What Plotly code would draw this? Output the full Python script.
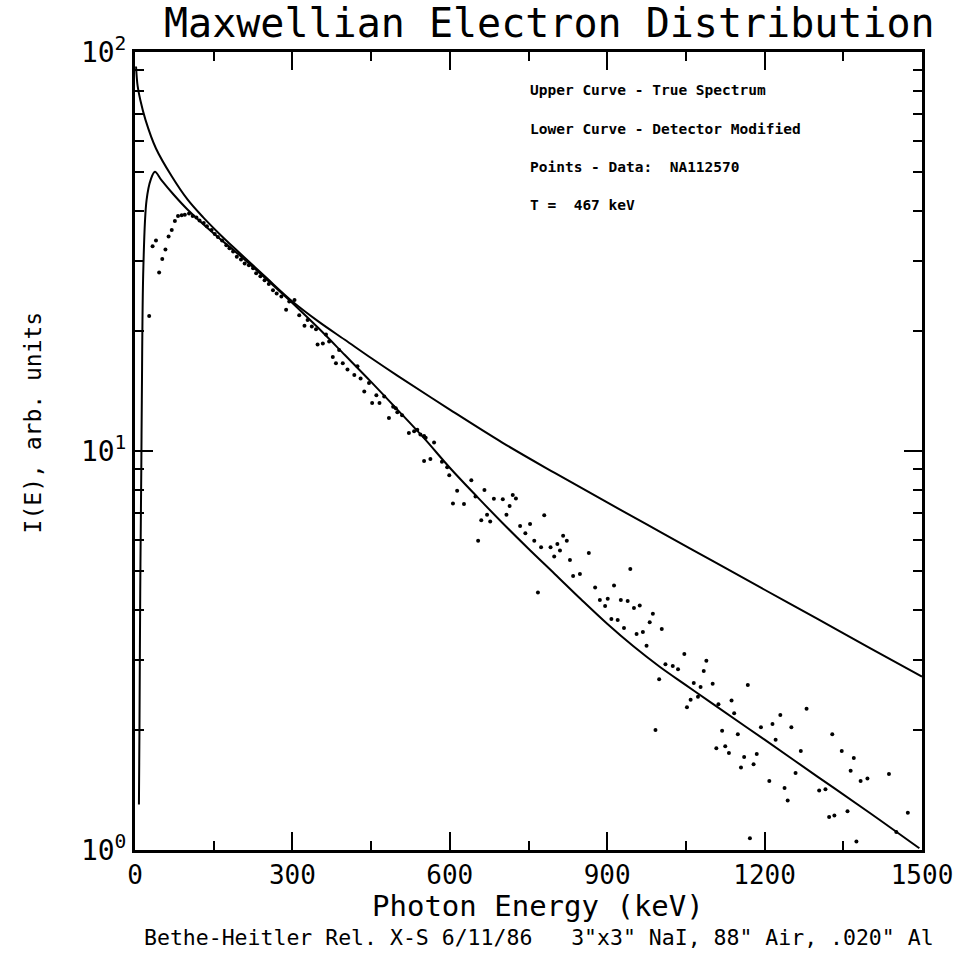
import plotly.graph_objects as go

# ---- data ----
E_true = [2, 5, 10, 20, 40, 70, 100, 130, 160, 200, 250, 300, 350, 400, 450, 500, 600, 700, 800, 900, 1000, 1100, 1200, 1300, 1400, 1500]
I_true = [92, 82.2, 75.9, 67.6, 57.3, 48.8, 42.7, 38.5, 35.1, 31.3, 27.2, 23.7, 21.1, 19.0, 17.1, 15.45, 12.7, 10.5, 8.81, 7.43, 6.28, 5.31, 4.49, 3.80, 3.21, 2.72]

E_det = [7.5, 8.5, 10, 12, 13, 16, 22, 30, 38, 50, 73, 100, 150, 200, 250, 300, 350, 400, 450, 500, 550, 600, 650, 700, 750, 800, 850, 900, 950, 1000, 1050, 1100, 1200, 1300, 1400, 1495]
I_det = [1.30, 2.0, 4.5, 9.0, 13.4, 29, 42.5, 47.9, 50.1, 47.8, 44.0, 40.3, 35.1, 30.9, 27.0, 23.5, 20.3, 17.4, 14.9, 12.7, 10.8, 9.08, 7.73, 6.61, 5.69, 4.92, 4.25, 3.69, 3.24, 2.88, 2.59, 2.33, 1.89, 1.53, 1.24, 1.01]

pts_E = [27, 33.5, 40, 46, 52, 58, 64, 70, 76, 82, 89, 95, 103, 110, 117, 123, 131, 137, 146, 152,
         158, 166, 174, 180, 187, 194, 202, 209, 217, 225, 231, 239, 247, 255, 263, 270, 279, 288, 294, 304,
         313, 323, 329, 337, 345, 348, 358, 364, 370, 377, 383, 389, 396, 405, 418, 424, 430, 437, 446, 452,
         460, 466, 475, 484, 492, 497, 500, 509, 522, 532, 538, 544, 551, 551, 554, 563, 570, 585, 595, 599,
         606, 614, 627, 641, 649, 654, 660, 666, 671, 677, 684, 701, 708, 714, 720, 726, 734, 744, 753, 761,
         768, 774, 780, 792, 799, 805, 810, 816, 823, 829, 835, 848, 865, 877, 886, 896, 901, 908, 913, 920,
         926, 932, 939, 944, 951, 956, 962, 968, 975, 981, 987, 992, 999, 1004, 1011, 1025, 1035, 1047, 1052, 1059,
         1065, 1073, 1078, 1084, 1089, 1101, 1108, 1112, 1119, 1125, 1132, 1137, 1142, 1149, 1155, 1161, 1168, 1172, 1179, 1185,
         1193, 1209, 1215, 1221, 1230, 1238, 1244, 1251, 1259, 1269, 1280, 1304, 1316, 1323, 1329, 1333, 1347, 1358, 1364, 1370,
         1375, 1383, 1396, 1437, 1451, 1473]
pts_I = [21.8, 32.6, 33.7, 28.0, 30.3, 32.0, 34.5, 35.8, 37.7, 38.8, 39.0, 39.1, 39.4, 38.8, 38.5, 37.8, 37.3, 36.6, 35.8, 35.0,
         34.4, 33.7, 32.8, 32.2, 31.6, 30.7, 30.2, 29.5, 29.2, 28.7, 27.9, 27.4, 26.8, 26.2, 25.3, 24.8, 24.4, 22.6, 23.7, 23.9,
         21.9, 20.6, 21.3, 20.5, 20.2, 18.5, 18.6, 19.6, 18.8, 17.2, 16.6, 17.9, 16.6, 16.0, 15.5, 16.3, 15.2, 14.1, 14.8, 13.2,
         13.8, 13.2, 13.7, 12.1, 12.9, 12.8, 12.5, 12.3, 11.1, 11.2, 11.3, 11.0, 10.9, 9.44, 10.8, 9.55, 10.5, 9.4, 9.1, 8.7,
         7.39, 7.95, 7.37, 8.45, 7.69, 5.96, 6.71, 7.98, 6.92, 6.66, 7.59, 7.57, 6.92, 7.28, 7.76, 7.60, 6.49, 6.22, 6.56, 5.96,
         4.42, 5.74, 6.90, 5.74, 5.44, 5.85, 5.63, 6.13, 5.96, 5.33, 4.86, 4.92, 5.55, 4.55, 4.23, 4.09, 4.26, 3.79, 4.60, 3.77,
         4.23, 3.60, 4.21, 5.06, 4.04, 3.48, 4.10, 3.52, 3.25, 3.72, 3.91, 2.0, 2.68, 3.58, 2.92, 2.89, 2.84, 3.10, 2.28, 2.38,
         2.62, 2.42, 2.56, 2.81, 2.98, 2.61, 1.80, 2.32, 1.99, 1.82, 1.75, 2.37, 2.20, 1.95, 1.61, 1.71, 2.59, 1.07, 1.64, 1.74,
         2.03, 1.49, 2.07, 1.89, 2.18, 1.43, 1.33, 2.03, 1.56, 1.77, 2.26, 1.41, 1.42, 1.21, 1.95, 1.22, 1.77, 1.25, 1.58, 1.70,
         1.05, 1.49, 1.51, 1.55, 1.11, 1.24]

x_ticks = [0, 300, 600, 900, 1200, 1500]
x_minor = [150, 450, 750, 1050, 1350]
y_ticks = [1, 10, 100]
y_ticktext = ["10<sup>0</sup>", "10<sup>1</sup>", "10<sup>2</sup>"]

title_text = "Maxwellian Electron Distribution"
x_title = "Photon Energy (keV)"
y_title = "I(E), arb. units"
note_text = 'Bethe-Heitler Rel. X-S 6/11/86   3"x3" NaI, 88" Air, .020" Al'
legend_lines = ["Upper Curve - True Spectrum",
                "Lower Curve - Detector Modified",
                "Points - Data:  NA112570",
                "T =  467 keV"]

FONT = "DejaVu Sans Mono"
W, H = 965, 958
L, R, T, B = 135, 40, 52, 108
PW, PH = W - L - R, H - T - B


def px(xp):
    return (xp - L) / PW


def py(yp):
    return 1 - (yp - T) / PH


fig = go.Figure()
fig.add_trace(go.Scatter(x=E_true, y=I_true, mode="lines",
                         line=dict(color="black", width=2, shape="spline", smoothing=1.0)))
fig.add_trace(go.Scatter(x=E_det, y=I_det, mode="lines",
                         line=dict(color="black", width=2, shape="spline", smoothing=1.0)))
fig.add_trace(go.Scatter(x=pts_E, y=pts_I, mode="markers",
                         marker=dict(color="black", size=4)))

minor_y = [m * d for d in (1, 10) for m in range(2, 10)]

fig.update_layout(
    width=W, height=H,
    margin=dict(l=L, r=R, t=T, b=B),
    plot_bgcolor="white", paper_bgcolor="white",
    showlegend=False,
    font=dict(family=FONT, color="black"),
    xaxis=dict(range=[0, 1500], tickmode="array", tickvals=x_ticks,
               ticks="inside", ticklen=18, tickwidth=2, tickcolor="black",
               minor=dict(tickmode="array", tickvals=x_minor,
                          ticks="inside", ticklen=9, tickwidth=2, tickcolor="black"),
               showline=True, linewidth=3, linecolor="black", mirror="ticks",
               showgrid=False, zeroline=False,
               tickfont=dict(family=FONT, size=26, color="black")),
    yaxis=dict(type="log", range=[0, 2], tickmode="array", tickvals=y_ticks, ticktext=y_ticktext,
               ticks="inside", ticklen=18, tickwidth=2, tickcolor="black",
               minor=dict(tickmode="array", tickvals=minor_y,
                          ticks="inside", ticklen=9, tickwidth=2, tickcolor="black"),
               showline=True, linewidth=3, linecolor="black", mirror="ticks",
               showgrid=False, zeroline=False,
               tickfont=dict(family=FONT, size=28, color="black")),
)

ann = []
ann.append(dict(text=title_text, x=px(551), y=py(23), xref="paper", yref="paper",
                xanchor="center", yanchor="middle", showarrow=False,
                font=dict(family=FONT, size=40, color="black")))
ann.append(dict(text=x_title, x=px(540), y=py(906), xref="paper", yref="paper",
                xanchor="center", yanchor="middle", showarrow=False,
                font=dict(family=FONT, size=29, color="black")))
ann.append(dict(text=note_text, x=px(541), y=py(937), xref="paper", yref="paper",
                xanchor="center", yanchor="middle", showarrow=False,
                font=dict(family=FONT, size=21.5, color="black")))
ann.append(dict(text=y_title, x=px(33), y=py(422), xref="paper", yref="paper",
                xanchor="center", yanchor="middle", showarrow=False, textangle=-90,
                font=dict(family=FONT, size=23, color="black")))
for line, yp in zip(legend_lines, [90, 129, 167, 205]):
    ann.append(dict(text="<b>" + line + "</b>", x=px(529), y=py(yp), xref="paper", yref="paper",
                    xanchor="left", yanchor="middle", showarrow=False,
                    font=dict(family=FONT, size=14.5, color="black")))
fig.update_layout(annotations=ann)

fig.write_html("out.html")
